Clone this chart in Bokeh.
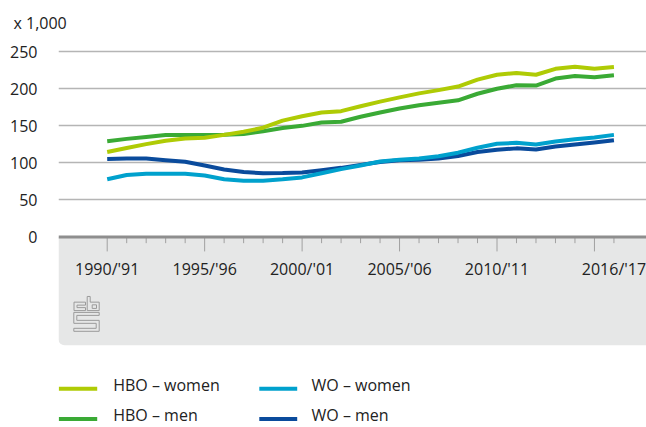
from bokeh.plotting import figure
from bokeh.models import Range1d, FixedTicker, Span, BoxAnnotation
from bokeh.core.properties import value
from bokeh.embed import file_html
from bokeh.resources import INLINE

# ---------------- data ----------------
years = list(range(1990, 2017))
hbo_women = [114.7, 120.0, 125.3, 130.0, 133.0, 133.8, 137.8, 142.0, 147.5, 157.0,
             163.0, 168.0, 169.8, 176.4, 182.7, 188.4, 193.8, 198.2, 203.0, 212.4,
             219.0, 221.3, 219.0, 227.0, 229.8, 227.0, 229.3]
hbo_men = [129.3, 132.4, 135.0, 137.8, 137.8, 137.8, 138.0, 139.0, 142.7, 147.0,
           150.0, 154.6, 155.5, 162.2, 168.0, 173.3, 177.8, 181.3, 184.4, 193.3,
           200.0, 204.9, 204.4, 213.8, 217.3, 215.6, 218.2]
wo_women = [78.0, 83.6, 85.5, 85.5, 85.5, 83.0, 78.0, 75.8, 76.0, 77.8,
            80.4, 86.0, 91.6, 96.4, 101.8, 104.4, 105.8, 108.9, 113.8, 120.4,
            125.8, 127.1, 124.9, 128.9, 132.0, 134.2, 137.8]
wo_men = [105.3, 106.0, 105.8, 103.5, 101.5, 96.5, 91.0, 87.6, 86.0, 86.2,
          87.0, 90.0, 93.3, 97.3, 101.3, 103.6, 104.4, 105.8, 109.3, 114.7,
          117.8, 119.6, 118.2, 122.2, 124.9, 127.6, 130.7]

series_names = ["HBO – women", "HBO – men", "WO – women", "WO – men"]
series_colors = ["#afcb05", "#3aaa35", "#00a1cd", "#0a4b9c"]

y_ticks = [0, 50, 100, 150, 200, 250]
x_label_years = [1990, 1995, 2000, 2005, 2010, 2016]
x_labels = ["1990/'91", "1995/'96", "2000/'01", "2005/'06", "2010/'11", "2016/'17"]
major_tick_years = [1990, 1995, 2000, 2005, 2010, 2015]
minor_tick_years = [y for y in years if y not in major_tick_years]
unit_label = "x 1,000"

# ---------------- layout helpers (canvas pixels -> data) ----------------
PX_1990 = 106.7      # canvas x of year 1990
PX_PER_YEAR = 19.49
PY_ZERO = 235.5      # canvas y of value 0
PX_PER_UNIT = 0.7448

FIG_W, FIG_H = 646, 427
B_LEFT, B_TOP = 58, 40


def px2x(px):
    return 1990 + (px - PX_1990) / PX_PER_YEAR


def py2y(py):
    return (PY_ZERO - py) / PX_PER_UNIT


x_start, x_end = px2x(B_LEFT), px2x(FIG_W)
y_start, y_end = py2y(FIG_H), py2y(B_TOP)

FONT = "Open Sans"
TEXT_COLOR = "#222222"

p = figure(width=FIG_W, height=FIG_H, title=unit_label,
           x_range=Range1d(x_start, x_end), y_range=Range1d(y_start, y_end),
           output_backend="svg", toolbar_location=None, x_axis_location=None,
           min_border_left=B_LEFT, min_border_right=0,
           min_border_top=B_TOP, min_border_bottom=0)
p.outline_line_color = None
p.background_fill_color = "white"
p.border_fill_color = "white"

# unit label as title, moved left over the tick labels
p.title.align = "left"
p.title.offset = -45
p.title.standoff = 18
p.title.text_font = FONT
p.title.text_font_size = "16px"
p.title.text_font_style = "normal"
p.title.text_color = TEXT_COLOR

# y axis
p.yaxis.ticker = FixedTicker(ticks=y_ticks)
p.yaxis.axis_line_color = None
p.yaxis.major_tick_line_color = None
p.yaxis.minor_tick_line_color = None
p.yaxis.major_label_text_font = FONT
p.yaxis.major_label_text_font_size = "16px"
p.yaxis.major_label_text_color = TEXT_COLOR
p.yaxis.major_label_standoff = 15
p.xgrid.visible = False
p.ygrid.ticker = FixedTicker(ticks=[t for t in y_ticks if t > 0])
p.ygrid.grid_line_color = "#b5b5b5"
p.ygrid.grid_line_width = 1.5

# gray band under the axis
band = BoxAnnotation(top=0, bottom=py2y(344.3), fill_color="#e6e7e7", fill_alpha=1.0,
                     line_color=None, level="underlay")
try:
    band.border_radius = dict(top_left=0, top_right=0, bottom_right=0, bottom_left=6)
except Exception:
    pass
p.add_layout(band)

# ticks
p.segment(x0=major_tick_years, y0=[0] * len(major_tick_years),
          x1=major_tick_years, y1=[py2y(250.0)] * len(major_tick_years),
          line_color="#a0a0a0", line_width=1)
p.segment(x0=minor_tick_years, y0=[0] * len(minor_tick_years),
          x1=minor_tick_years, y1=[py2y(241.7)] * len(minor_tick_years),
          line_color="#a0a0a0", line_width=1)

# x tick labels
p.text(x=x_label_years, y=[py2y(267.5)] * len(x_label_years), text=x_labels,
       text_font=value(FONT), text_font_size="16px", text_color=TEXT_COLOR,
       text_align="center", text_baseline="middle")

# cbs logo (decorative outline, canvas pixel outline of c, b, s)
logo_paths = [
    [(85, 301), (73.5, 301), (73.5, 309.5), (85, 309.5), (85, 306.5), (76.5, 306.5),
     (76.5, 304), (85, 304), (85, 301)],
    [(86.7, 295.3), (89.7, 295.3), (89.7, 301), (98.7, 301), (98.7, 309.5),
     (86.7, 309.5), (86.7, 295.3)],
    [(91.7, 303.7), (96, 303.7), (96, 307.3), (91.7, 307.3), (91.7, 303.7)],
    [(73.3, 311.3), (98.7, 311.3), (98.7, 314.3), (76.3, 314.3), (76.3, 319.3),
     (98.7, 319.3), (98.7, 330.3), (73.3, 330.3), (73.3, 327.3), (95.7, 327.3),
     (95.7, 322.3), (73.3, 322.3), (73.3, 311.3)],
]
p.multi_line(xs=[[px2x(a) for a, b in path] for path in logo_paths],
             ys=[[py2y(b) for a, b in path] for path in logo_paths],
             line_color="#9a9a9a", line_width=1)

# axis line
p.add_layout(Span(location=0, dimension="width", line_color="#8e8e8e", line_width=3))

# data lines
series_values = {"HBO – women": hbo_women, "HBO – men": hbo_men,
                 "WO – women": wo_women, "WO – men": wo_men}
draw_order = ["HBO – men", "WO – men", "HBO – women", "WO – women"]
for name in draw_order:
    c = series_colors[series_names.index(name)]
    p.line(years, series_values[name], line_color=c, line_width=4, line_join="round")

# legend (manual, two columns)
leg_line_x = [(58.3, 96.7), (58.3, 96.7), (258.8, 296.7), (258.8, 296.7)]
leg_text_x = [112.7, 112.7, 311.0, 311.0]
leg_row_text_y = [384.5, 414.5, 384.5, 414.5]
leg_row_line_y = [388.0, 418.5, 388.0, 418.5]
p.segment(x0=[px2x(a) for a, b in leg_line_x], x1=[px2x(b) for a, b in leg_line_x],
          y0=[py2y(v) for v in leg_row_line_y], y1=[py2y(v) for v in leg_row_line_y],
          line_color=series_colors, line_width=4)
p.text(x=[px2x(v) for v in leg_text_x], y=[py2y(v) for v in leg_row_text_y],
       text=series_names, text_font=value(FONT), text_font_size="16px",
       text_color=TEXT_COLOR, text_align="left", text_baseline="middle")

open("out.html", "w").write(file_html(p, INLINE))
